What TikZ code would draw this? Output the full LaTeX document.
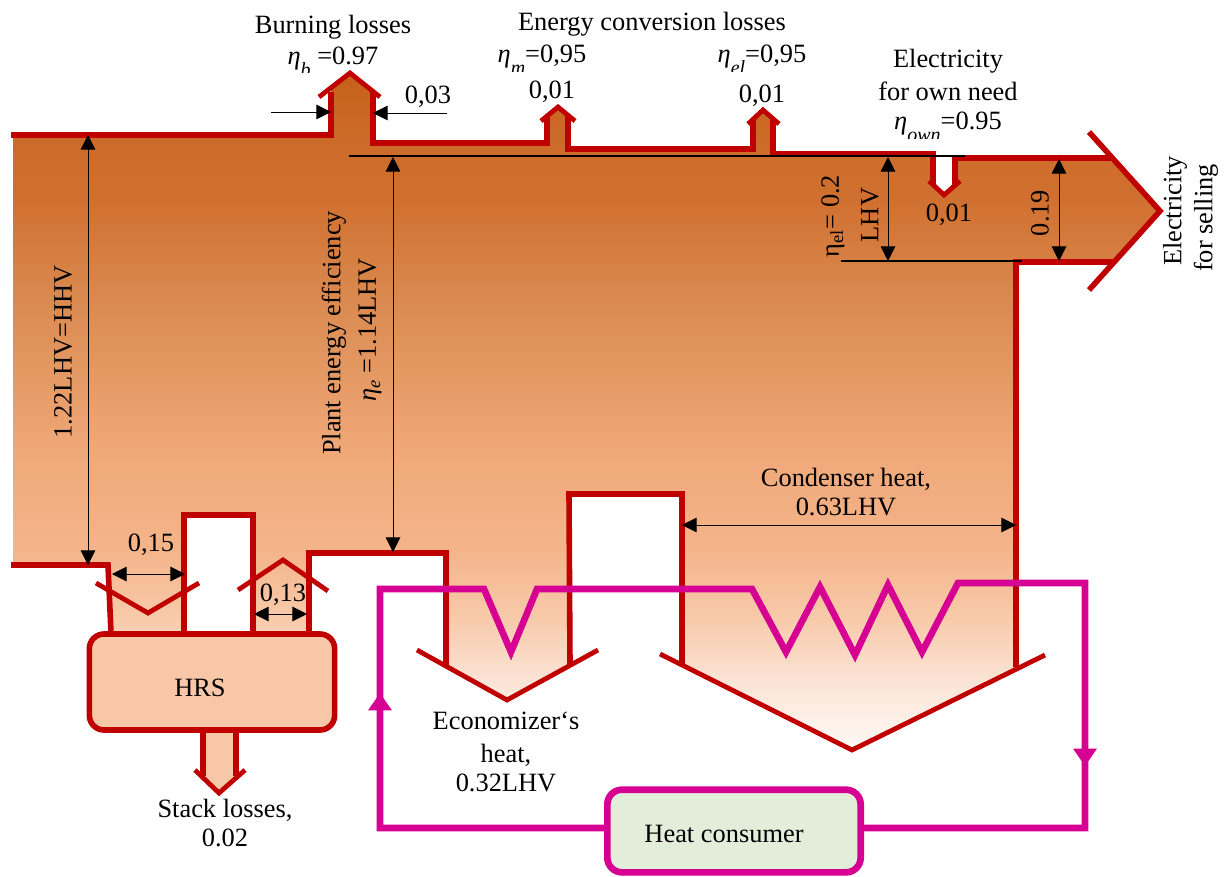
\documentclass[tikz,border=0pt]{standalone}
\usepackage{fontspec}
\setmainfont{Liberation Serif}
\usetikzlibrary{calc,positioning,arrows.meta}
\definecolor{flowred}{HTML}{C00000}
\definecolor{heatpink}{HTML}{D60093}
\definecolor{hrsfill}{HTML}{F7C7A8}
\definecolor{consumerfill}{HTML}{E2EED9}
\definecolor{flowa}{HTML}{C46018}
\definecolor{flowb}{HTML}{CC6A28}
\definecolor{flowc}{HTML}{D07030}
\definecolor{flowd}{HTML}{DA8A50}
\definecolor{flowe}{HTML}{EFA878}
\definecolor{flowf}{HTML}{F4B48A}
\definecolor{flowg}{HTML}{F8CBAB}
\definecolor{flowh}{HTML}{FBE3D5}
\definecolor{flowi}{HTML}{FFFAF6}
\pgfdeclareverticalshading{flowshade}{100bp}{
 color(0bp)=(flowi);
 color(25bp)=(flowi);
 color(30.2bp)=(flowh);
 color(34.6bp)=(flowg);
 color(39.8bp)=(flowf);
 color(47.2bp)=(flowe);
 color(58.2bp)=(flowd);
 color(65.6bp)=(flowc);
 color(70.4bp)=(flowb);
 color(75bp)=(flowa);
 color(100bp)=(flowa)}
\newcommand{\subcut}[1]{\raisebox{-9pt}{\fontsize{15}{15}\selectfont\textit{#1}}}
\tikzset{
 flowline/.style={draw=flowred,line width=4.2pt,miter limit=20},
 chevron/.style={draw=flowred,line width=3.6pt,miter limit=20},
 heatline/.style={draw=heatpink,line width=5pt,miter limit=20},
 dimline/.style={black,line width=.7pt,{Triangle[length=11pt,width=11pt]}-{Triangle[length=11pt,width=11pt]}},
 oneway/.style={black,line width=.7pt,-{Triangle[length=11pt,width=11pt]}},
 heattip/.style={heatline,-{Triangle[length=13pt,width=17pt]}},
 lab/.style={font=\fontsize{19.8}{22.5}\selectfont,inner sep=0pt,text=black}
}
\begin{document}
\begin{tikzpicture}[x=.75pt,y=-.75pt]
\useasboundingbox (0,0) rectangle (1232,876);
% flow body
\shade[shading=flowshade] (13,135)--(331,135)--(331,88)--(350,73)--(373,91)--(373,143)--(547,143)--(547,113)--(558,107)--(568,115)--(568,149)--(753,149)--(753,119)--(763,110)--(773,119)--(773,154)--(932,154)--(932,182)--(944,195)--(954,182)--(954,157)--(1112,157)--(1160,211)--(1113,262)--(1016,262)--(1016,667)--(852,750)--(682,664)--(682,494)--(570,494)--(571,662)--(507,700)--(445,665)--(445,553)--(310,553)--(310,631)--(253,631)--(253,515)--(184,515)--(184,631)--(111,631)--(108,565)--(13,565)--cycle;
% outline
\draw[flowline] (11,135)--(331,135)--(331,92);
\draw[flowline] (373,92)--(373,143)--(547,143)--(547,116);
\draw[flowline] (568,116)--(568,152);
\draw[flowline] (568,149)--(753,149)--(753,120);
\draw[flowline] (773,120)--(773,154)--(933,154)--(933,186);
\draw[flowline] (955,186)--(955,158)--(1114,158);
\draw[flowline] (1089,132)--(1160,211)--(1089,290);
\draw[flowline] (1114,262)--(1016,262)--(1016,667);
\draw[flowline] (11,565)--(108,565)--(111,633);
\draw[flowline] (184,633)--(184,515)--(253,515)--(253,633);
\draw[flowline] (309,633)--(309,553)--(446,553)--(446,667);
\draw[flowline] (570,664)--(569,494)--(682,494)--(682,666);
\foreach \ax/\ay/\bx/\by/\cx/\cy in {319/97/350/73/380/97, 541/121/558/107/575/121, 748/124/763/110/779/124, 929/181/944/195/960/181, 96/583/148/613/199/583, 238/590/283/560/328/591, 417/650/507/700/598/650, 660/654/852/750/1045/655}
 \draw[chevron] (\ax,\ay)--(\bx,\by)--(\cx,\cy);
% HRS and stack
\fill[hrsfill] (203,730)--(203,778)--(219,791)--(236,778)--(236,730)--cycle;
\draw[flowline] (203,732)--(203,776);
\draw[flowline] (236,732)--(236,776);
\draw[chevron] (195,770)--(219,793)--(245,770);
\node[flowline,fill=hrsfill,rounded corners=11pt,minimum width=184pt,minimum height=72pt,inner sep=0pt] (hrsbox) at (212,682) {};
% heat loop
\node[heatline,fill=consumerfill,rounded corners=11pt,minimum width=190pt,minimum height=62pt,inner sep=0pt] (consumer) at (734,831) {};
\coordinate (loopw) at (380,828);
\coordinate (loope) at (1085,828);
\draw[heatline] (consumer.west|-loopw)--(loopw)--(380,589)--(484,589)--(511,652)--(537,589)--(752,589)--(786,652)--(820,587)--(855,655)--(888,585)--(922,652)--(958,583)--(1085,583)--(loope)--(consumer.east|-loope);
\coordinate (tipup) at (380,693);
\coordinate (tipdown) at (1085,766);
\draw[heattip] (loopw|-consumer.north)--(tipup);
\draw[heattip] (1085,700)--(tipdown);
% thin rules
\foreach \nm/\ax/\ay/\bx/\by in {upper/349/156/965/156,lower/841/261/1022/261} {
 \coordinate (\nm a) at (\ax,\ay);
 \coordinate (\nm b) at (\bx,\by);
 \draw[black,line width=.8pt] (\nm a)--(\nm b);
}
% dimensions
\foreach \nm/\ax/\ay/\bx/\by in {total/88/135/88/565,plant/393/157/393/552,elec/888/157/888/261,sell/1059/159/1059/261,hrsin/112/574/185/574,hrsout/254/614/307/614,cond/682/525/1016/525} {
 \coordinate (\nm a) at (\ax,\ay);
 \coordinate (\nm b) at (\bx,\by);
 \draw[dimline] (\nm a)--(\nm b);
}
\foreach \nm/\ax/\ay/\bx/\by in {burnl/271/112/331/112,burnr/447/113/373/113} {
 \coordinate (\nm a) at (\ax,\ay);
 \coordinate (\nm b) at (\bx,\by);
 \draw[oneway] (\nm a)--(\nm b);
}
% texts
\foreach \nm/\x/\y/\rot/\txt in {
 burn/333/27/0/{Burning losses},
 conv/652/24/0/{Energy conversion losses},
 lossm/552/92/0/{0,01},
 lossel/762/96/0/{0,01},
 own/948/61/0/{Electricity},
 ownb/948/91/0/{for own need},
 val/428/97/0/{0,03},
 lossown/949/215/0/{0,01},
 sellval/1040/213/90/{0.19},
 lhv/870/215/90/{LHV},
 elta/833/216/90/{\textrm{η}\textsubscript{el}= 0.2},
 sellt/1175/211/90/{Electricity},
 sellb/1206/218/90/{for selling},
 hhv/63/352/90/{1.22LHV=HHV},
 plantt/334/333/90/{Plant energy efficiency},
 plantb/370/330/90/{\textit{η}\textsubscript{\textit{e}} =1.14LHV},
 inval/151/545/0/{0,15},
 outval/283/595/0/{0,13},
 hrs/200/688/0/{HRS},
 stack/225/810/0/{Stack losses,},
 stackb/225/838/0/{0.02},
 eco/506/721/0/{Economizer‘s},
 ecob/506/755/0/{heat,},
 ecoc/506/783/0/{0.32LHV},
 condt/846/479/0/{Condenser heat,},
 condb/846/507/0/{0.63LHV},
 hc/724/834/0/{Heat consumer}}
 \node[lab,rotate=\rot] (\nm) at (\x,\y) {\txt};
% eta labels are cut at the lower edge
\foreach \nm/\x/\y/\cy/\txt in {
 etab/333/62/72/{\textit{η}\subcut{b} =0.97},
 etam/542/60/71/{\textit{η}\subcut{m}=0,95},
 etael/762/60/71/{\textit{η}\subcut{el}=0,95},
 etaown/948/127/138/{\textit{η}\subcut{own}=0.95}} {
 \begin{scope}
 \clip (\x-90,\y-30) rectangle (\x+90,\cy);
 \node[lab] (\nm) at (\x,\y) {\txt};
 \end{scope}
}
\end{tikzpicture}
\end{document}
